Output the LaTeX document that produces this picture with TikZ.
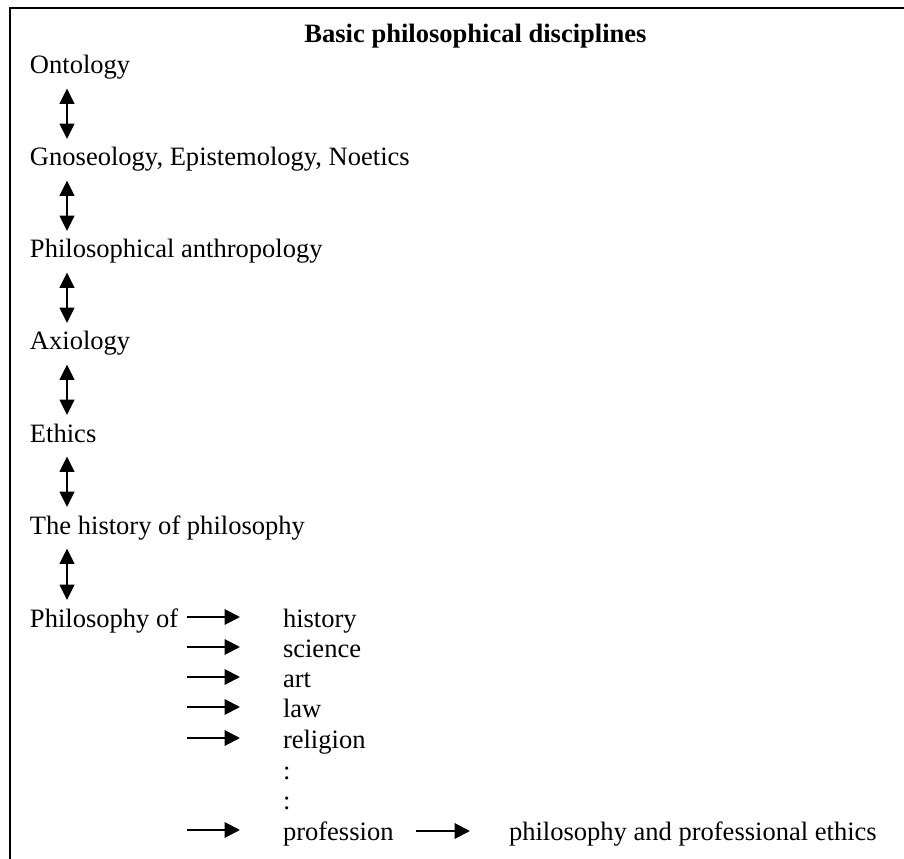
\documentclass[tikz,border=0pt]{standalone}
\usepackage{fontspec}
\setmainfont{Liberation Serif}
\usetikzlibrary{arrows.meta}
\tikzset{
  txt/.style={inner sep=0pt, outer sep=0pt, anchor=base west, font=\fontsize{19.9}{24}\selectfont},
  ttl/.style={inner sep=0pt, outer sep=0pt, anchor=base, font=\fontsize{19.9}{24}\selectfont\bfseries},
  varr/.style={line width=1.5pt, {Triangle[length=11.6pt,width=11pt]}-{Triangle[length=11.6pt,width=11pt]}},
  harr/.style={line width=1.5pt, -{Triangle[length=11.6pt,width=11.6pt]}},
  frame/.style={line width=1.5pt}
}
\begin{document}
\begin{tikzpicture}[x=0.75pt,y=-0.75pt]
\useasboundingbox (0,0) rectangle (904,859);
\coordinate (fb) at (10.3,870);
\coordinate (fc) at (10.3,8.3);
\coordinate (fr) at (915,8.3);
\draw[frame] (fb) -- (fc) -- (fr);
\node[ttl] (title) at (475.5,43) {Basic philosophical disciplines};
\node[txt] (onto) at (30,74) {Ontology};
\node[txt] (gno) at (30,166) {Gnoseology, Epistemology, Noetics};
\node[txt] (anth) at (30,258) {Philosophical anthropology};
\node[txt] (axi) at (30,350) {Axiology};
\node[txt] (eth) at (30,442) {Ethics};
\node[txt] (hop) at (30,534) {The history of philosophy};
\node[txt] (pof) at (30,627) {Philosophy of};
\node[txt] (s1) at (283,627) {history};
\node[txt] (s2) at (283,657) {science};
\node[txt] (s3) at (283,687) {art};
\node[txt] (s4) at (283,717) {law};
\node[txt] (s5) at (283,748) {religion};
\node[txt] (c1) at (283,779) {:};
\node[txt] (c2) at (283,809) {:};
\node[txt] (s6) at (283,840) {profession};
\node[txt] (pe) at (509,840) {philosophy and professional ethics};
\foreach \a/\b in {onto/gno,gno/anth,anth/axi,axi/eth,eth/hop,hop/pof}{
  \draw[varr] ([shift={(37,14.5)}]\a.base west) -- ([shift={(37,-27)}]\b.base west);
}
\foreach \s in {s1,s2,s3,s4,s5,s6}{
  \draw[harr] ([shift={(-96,-10)}]\s.base west) -- ([shift={(-43,-10)}]\s.base west);
}
\draw[harr] ([shift={(22,-9)}]s6.base east) -- ([shift={(-39,-9)}]pe.base west);
\end{tikzpicture}
\end{document}
